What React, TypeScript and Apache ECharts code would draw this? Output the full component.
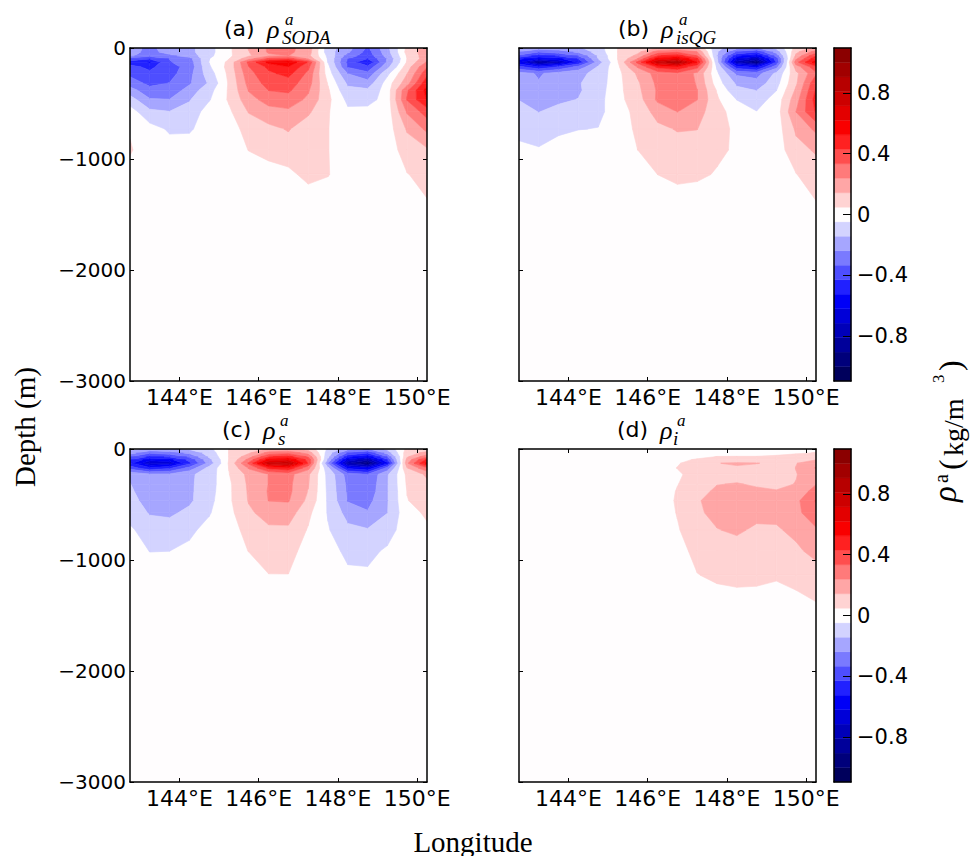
import React, { useEffect, useRef } from "react";
import * as echarts from "echarts";

const longitudes = [142.75, 143.25, 143.75, 144.25, 144.75, 145.25, 145.75, 146.25, 146.75, 147.25, 147.75, 148.25, 148.75, 149.25, 149.75, 150.25];
const depths = [0, 35, 70, 96, 129, 171, 229, 317, 381, 465, 574, 729, 918, 1139, 1378, 1625];
const levels = [-1.095, -0.9998, -0.9046, -0.8093, -0.7141, -0.6189, -0.5237, -0.4285, -0.3333, -0.238, -0.1428, -0.0476, 0.0476, 0.1428, 0.238, 0.3333, 0.4285, 0.5237, 0.6189, 0.7141, 0.8093, 0.9046, 0.9998, 1.095];
const lonTicks = [144, 146, 148, 150];
const depthTicks = [0, -1000, -2000, -3000];
const barTicks = [-0.8, -0.4, 0, 0.4, 0.8];

// density anomaly per longitude column, top to bottom along `depths`
const rhoSoda = [
  [-.19, -.2, -.22, -.38, -.47, -.4, -.36, -.28, -.2, -.1, 0, .04, .056, .02, 0, 0],
  [-.27, -.27, -.3, -.42, -.53, -.45, -.41, -.36, -.3, -.23, -.12, -.01, 0, 0, 0, 0],
  [-.18, -.2, -.26, -.33, -.34, -.37, -.37, -.33, -.3, -.235, -.14, -.06, -.01, 0, 0, 0],
  [-.17, -.17, -.2, -.27, -.29, -.3, -.27, -.25, -.2, -.15, -.11, -.06, 0, 0, 0, 0],
  [-.08, -.08, -.07, -.05, -.045, -.06, -.09, -.13, -.08, -.055, 0, 0, 0, 0, 0, 0],
  [.03, .03, .03, .045, .07, .08, .07, .06, .06, .06, .03, .02, 0, 0, 0, 0],
  [.15, .14, .13, .2, .36, .33, .3, .27, .245, .2, .15, .07, .05, 0, 0, 0],
  [.25, .25, .22, .35, .55, .45, .41, .37, .335, .28, .2, .12, .07, .02, 0, 0],
  [.26, .26, .24, .38, .6, .52, .46, .38, .35, .29, .22, .15, .1, .025, 0, 0],
  [.2, .19, .17, .22, .42, .36, .31, .28, .25, .22, .16, .09, .07, .075, 0, 0],
  [-.1, -.1, -.07, -.06, -.05, -.02, 0, .04, .06, .07, .055, .05, .05, .052, 0, 0],
  [-.2, -.22, -.28, -.33, -.36, -.34, -.24, -.16, -.12, -.07, -.03, 0, 0, 0, 0, 0],
  [-.35, -.37, -.39, -.43, -.52, -.4, -.31, -.2, -.125, -.09, -.01, 0, 0, 0, 0, 0],
  [-.17, -.18, -.2, -.23, -.22, -.17, -.07, 0, 0, 0, 0, 0, 0, 0, 0, 0],
  [.07, .08, .06, .05, .06, .1, .14, .2, .32, .34, .25, .155, .09, .045, 0, 0],
  [.2, .2, .2, .2, .25, .33, .4, .5, .56, .53, .38, .26, .13, .07, .045, 0],
];
const rhoIsQG = [
  [-.17, -.24, -.36, -.5, -.6, -.4, -.2, -.185, -.165, -.145, -.11, -.07, -.03, 0, 0, 0],
  [-.2, -.33, -.47, -.6, -.85, -.5, -.25, -.23, -.21, -.18, -.145, -.09, -.04, 0, 0, 0],
  [-.18, -.29, -.42, -.55, -.75, -.42, -.2, -.2, -.19, -.16, -.115, -.07, 0, 0, 0, 0],
  [-.16, -.22, -.33, -.42, -.5, -.3, -.17, -.15, -.155, -.14, -.1, -.05, 0, 0, 0, 0],
  [-.09, -.1, -.13, -.14, -.19, -.13, -.11, -.1, -.09, -.08, -.07, -.045, 0, 0, 0, 0],
  [.05, .05, .05, .05, .045, .03, .02, .02, .02, .02, 0, 0, 0, 0, 0, 0],
  [.07, .12, .17, .24, .36, .25, .16, .13, .12, .1, .08, .065, .048, 0, 0, 0],
  [.15, .28, .42, .56, .75, .45, .28, .26, .25, .255, .18, .12, .085, .048, 0, 0],
  [.17, .32, .47, .62, .88, .5, .31, .31, .3, .29, .24, .15, .1, .07, .01, 0],
  [.14, .24, .33, .45, .52, .36, .22, .23, .24, .24, .19, .145, .1, .065, 0, 0],
  [-.12, -.13, -.14, -.13, -.11, -.06, -.03, 0, .04, .06, .07, .07, .065, .04, 0, 0],
  [-.2, -.35, -.5, -.62, -.75, -.48, -.26, -.16, -.12, -.05, .02, .035, .035, .01, 0, 0],
  [-.25, -.42, -.6, -.75, -.95, -.55, -.28, -.2, -.145, -.09, -.045, 0, 0, 0, 0, 0],
  [-.12, -.2, -.3, -.38, -.42, -.27, -.12, -.08, -.05, -.01, 0, 0, 0, 0, 0, 0],
  [.08, .12, .17, .22, .3, .19, .12, .13, .16, .2, .24, .16, .11, .045, 0, 0],
  [.17, .28, .42, .5, .58, .4, .32, .41, .44, .47, .44, .26, .155, .095, .047, 0],
];
const rhoS = [
  [-.12, -.2, -.33, -.42, -.5, -.38, -.16, -.14, -.13, -.12, -.09, -.03, 0, 0, 0, 0],
  [-.17, -.32, -.45, -.58, -.7, -.5, -.22, -.2, -.19, -.17, -.15, -.1, -.05, 0, 0, 0],
  [-.16, -.28, -.42, -.55, -.68, -.45, -.22, -.2, -.2, -.18, -.16, -.1, -.048, 0, 0, 0],
  [-.13, -.22, -.32, -.4, -.45, -.3, -.16, -.16, -.16, -.16, -.12, -.065, -.03, 0, 0, 0],
  [-.07, -.1, -.13, -.17, -.2, -.11, -.1, -.09, -.085, -.075, -.055, -.02, 0, 0, 0, 0],
  [.05, .05, .05, .05, .06, .05, .045, .03, .03, .03, .02, 0, 0, 0, 0, 0],
  [.08, .13, .2, .27, .35, .25, .17, .16, .155, .15, .125, .085, .05, 0, 0, 0],
  [.15, .27, .42, .56, .75, .45, .24, .24, .245, .24, .185, .125, .085, .045, 0, 0],
  [.16, .3, .46, .6, .8, .5, .27, .26, .26, .245, .19, .125, .09, .045, 0, 0],
  [.11, .2, .32, .4, .42, .27, .16, .15, .14, .12, .07, .04, 0, 0, 0, 0],
  [-.06, -.09, -.12, -.16, -.25, -.12, -.075, -.07, -.065, -.06, -.055, -.04, -.01, 0, 0, 0],
  [-.2, -.35, -.5, -.65, -.8, -.55, -.28, -.26, -.255, -.245, -.18, -.12, -.07, -.03, 0, 0],
  [-.25, -.42, -.6, -.78, -.95, -.62, -.33, -.31, -.3, -.27, -.23, -.135, -.07, -.035, 0, 0],
  [-.12, -.2, -.33, -.43, -.55, -.3, -.155, -.15, -.15, -.15, -.145, -.085, -.035, 0, 0, 0],
  [.07, .1, .13, .18, .22, .14, .07, .06, .05, .045, .02, 0, 0, 0, 0, 0],
  [.09, .17, .3, .45, .55, .32, .16, .12, .1, .08, .06, .035, 0, 0, 0, 0],
];
const rhoI = [
  [0, 0, 0, 0, 0, 0, 0, 0, 0, 0, 0, 0, 0, 0, 0, 0],
  [0, 0, 0, 0, 0, 0, 0, 0, 0, 0, 0, 0, 0, 0, 0, 0],
  [0, 0, 0, 0, 0, 0, 0, 0, 0, 0, 0, 0, 0, 0, 0, 0],
  [0, 0, 0, 0, 0, 0, 0, 0, 0, 0, 0, 0, 0, 0, 0, 0],
  [0, 0, 0, 0, 0, 0, 0, 0, 0, 0, 0, 0, 0, 0, 0, 0],
  [0, 0, 0, 0, 0, 0, 0, 0, 0, 0, 0, 0, 0, 0, 0, 0],
  [0, 0, 0, 0, 0, 0, 0, 0, 0, 0, 0, 0, 0, 0, 0, 0],
  [0, 0, 0, 0, 0, 0, 0, 0, 0, 0, 0, 0, 0, 0, 0, 0],
  [0, 0, .01, .03, .04, .05, .035, .045, .053, .058, .052, .04, .02, 0, 0, 0],
  [0, .01, .03, .055, .09, .1, .08, .09, .11, .135, .13, .1, .07, .045, 0, 0],
  [0, .02, .05, .07, .14, .14, .11, .14, .16, .175, .165, .14, .09, .06, .02, 0],
  [.01, .03, .05, .08, .155, .13, .12, .147, .17, .18, .17, .155, .11, .07, .02, 0],
  [.01, .03, .05, .07, .147, .11, .1, .135, .155, .17, .165, .13, .1, .07, .015, 0],
  [.01, .035, .055, .08, .12, .1, .11, .13, .146, .17, .16, .135, .1, .055, .02, 0],
  [.015, .04, .07, .1, .14, .145, .14, .145, .17, .215, .21, .16, .13, .07, .03, 0],
  [.02, .05, .09, .14, .2, .245, .19, .235, .28, .34, .31, .225, .165, .11, .047, 0],
];

const panelValues = [rhoSoda, rhoIsQG, rhoS, rhoI];
const SANS = "DejaVu Sans";
const SERIF = "Liberation Serif";
const BG = "#fffdfe";

// matplotlib "seismic" at a band's position among the 23 bands
function seismic(t: number): string {
  const stops = [[0, 0, 0.3], [0, 0, 1], [1, 1, 1], [1, 0, 0], [0.5, 0, 0]];
  const p = Math.min(t, 0.99999) * 4;
  const i = Math.floor(p);
  const f = p - i;
  const c = stops[i].map((a, k) => Math.round((a + (stops[i + 1][k] - a) * f) * 255));
  return `rgb(${c[0]},${c[1]},${c[2]})`;
}
const bandColor = (k: number) => (k === 11 ? BG : seismic((k + 0.5) / 23));

type Vert = { x: number; y: number; v: number };
function clipBelow(poly: Vert[], limit: number, keepAbove: boolean): Vert[] {
  const out: Vert[] = [];
  const inside = (p: Vert) => (keepAbove ? p.v >= limit : p.v <= limit);
  for (let i = 0; i < poly.length; i++) {
    const a = poly[i];
    const b = poly[(i + 1) % poly.length];
    if (inside(a)) out.push(a);
    if (inside(a) !== inside(b)) {
      const f = (limit - a.v) / (b.v - a.v);
      out.push({ x: a.x + (b.x - a.x) * f, y: a.y + (b.y - a.y) * f, v: limit });
    }
  }
  return out;
}

// filled contour pieces of one panel: [band, [lon, -depth], ...]
function contourPieces(values: number[][]) {
  const pieces: { band: number; pts: number[][] }[] = [];
  for (let c = 0; c < longitudes.length - 1; c++) {
    for (let r = 0; r < depths.length - 1; r++) {
      const quad: Vert[] = [
        { x: longitudes[c], y: -depths[r], v: values[c][r] },
        { x: longitudes[c + 1], y: -depths[r], v: values[c + 1][r] },
        { x: longitudes[c + 1], y: -depths[r + 1], v: values[c + 1][r + 1] },
        { x: longitudes[c], y: -depths[r + 1], v: values[c][r + 1] },
      ];
      for (let k = 0; k < levels.length - 1; k++) {
        if (k === 11) continue;
        let poly = clipBelow(quad, levels[k], true);
        if (poly.length < 3) continue;
        poly = clipBelow(poly, levels[k + 1], false);
        if (poly.length < 3) continue;
        pieces.push({ band: k, pts: poly.map((p) => [p.x, p.y]) });
      }
    }
  }
  return pieces;
}

const PLOT_W = 297;
const PLOT_H = 333;
const lefts = [130, 519, 130, 519];
const tops = [48, 48, 449, 449];

const axisLine = { show: true, onZero: false, lineStyle: { color: "#000", width: 1.5 } };
const minus = (s: string) => s.replace("-", "\u2212");

function buildOption() {
  const grid: any[] = [];
  const xAxis: any[] = [];
  const yAxis: any[] = [];
  const series: any[] = [];

  panelValues.forEach((values, i) => {
    grid.push({ show: true, left: lefts[i], top: tops[i], width: PLOT_W, height: PLOT_H, backgroundColor: BG, borderWidth: 0 });
    const xBase = { type: "value", gridIndex: i, min: longitudes[0], max: longitudes[15], z: 5, axisLine, splitLine: { show: false } };
    const yBase = { type: "value", gridIndex: i, min: -3000, max: 0, z: 5, axisLine, splitLine: { show: false } };
    const tickX = { inside: true, length: 4, lineStyle: { color: "#000", width: 1 }, customValues: lonTicks };
    const tickY = { inside: true, length: 4, lineStyle: { color: "#000", width: 1 }, customValues: depthTicks };
    xAxis.push({
      ...xBase, position: "bottom", axisTick: tickX,
      axisLabel: { customValues: lonTicks, formatter: (v: number) => `${v}°E`, fontFamily: SANS, fontSize: 22, color: "#000", margin: 5 },
    });
    xAxis.push({ ...xBase, position: "top", axisTick: tickX, axisLabel: { show: false } });
    yAxis.push({
      ...yBase, position: "left", axisTick: tickY,
      axisLabel: i % 2 === 0
        ? { customValues: depthTicks, formatter: (v: number) => minus(String(v)), fontFamily: SANS, fontSize: 20, color: "#000", margin: 4 }
        : { show: false },
    });
    yAxis.push({ ...yBase, position: "right", axisTick: tickY, axisLabel: { show: false } });

    const pieces = contourPieces(values);
    series.push({
      type: "custom", xAxisIndex: i * 2, yAxisIndex: i * 2, coordinateSystem: "cartesian2d", clip: true, silent: true,
      data: pieces.map((_, n) => [n]),
      renderItem: (_: any, api: any) => {
        const piece = pieces[api.value(0)];
        const fill = bandColor(piece.band);
        return {
          type: "polygon",
          shape: { points: piece.pts.map((p) => api.coord(p)) },
          style: { fill, stroke: fill, lineWidth: 0.6 },
        };
      },
    });
  });

  [0, 1].forEach((b) => {
    const g = grid.length;
    const xi = xAxis.length;
    const yi = yAxis.length;
    grid.push({ show: false, left: 834, top: tops[b * 2], width: 17, height: PLOT_H });
    const xBase = { type: "value", gridIndex: g, min: 0, max: 1, z: 5, axisLine, axisTick: { show: false }, axisLabel: { show: false }, splitLine: { show: false } };
    xAxis.push({ ...xBase, position: "bottom" }, { ...xBase, position: "top" });
    const yBase = { type: "value", gridIndex: g, min: levels[0], max: levels[23], z: 5, axisLine, splitLine: { show: false } };
    yAxis.push({ ...yBase, position: "left", axisTick: { show: false }, axisLabel: { show: false } });
    yAxis.push({
      ...yBase, position: "right",
      axisTick: { inside: true, length: 8, lineStyle: { color: "#000", width: 1 }, customValues: barTicks },
      axisLabel: { customValues: barTicks, formatter: (v: number) => minus(String(v)), fontFamily: SANS, fontSize: 21, color: "#000", margin: 6 },
    });
    const bands = levels.slice(0, -1).map((lo, k) => [lo, levels[k + 1], k]);
    series.push({
      type: "custom", xAxisIndex: xi, yAxisIndex: yi, coordinateSystem: "cartesian2d", silent: true,
      data: bands,
      renderItem: (_: any, api: any) => {
        const a = api.coord([0, api.value(1)]);
        const c = api.coord([1, api.value(0)]);
        const fill = bandColor(api.value(2));
        return { type: "rect", shape: { x: a[0], y: a[1], width: c[0] - a[0], height: c[1] - a[1] }, style: { fill, stroke: fill, lineWidth: 0.4 } };
      },
    });
  });

  const txt = (text: string, x: number, y: number, fontFamily: string, fontSize: number, extra: any = {}, rotation = 0) => ({
    type: "text", x, y, rotation, z: 20, silent: true,
    style: { text, fontFamily, fontSize, fill: "#000", textAlign: "left", textVerticalAlign: "middle", ...extra },
  });
  const it = { fontStyle: "italic" };
  const title = (tag: string, sub: string, tagX: number, rhoX: number, supX: number, subX: number, dy: number) => [
    txt(tag, tagX, 28 + dy, SANS, 22),
    txt("\u03c1", rhoX, 29 + dy, SERIF, 26, it),
    txt("a", supX, 19 + dy, SERIF, 17, it),
    txt(sub, subX, 37 + dy, SERIF, 19, it),
  ];
  const graphic = [
    ...title("(a)", "SODA", 224, 267, 285, 282, 0),
    ...title("(b)", "isQG", 618, 661, 679, 676, 0),
    ...title("(c)", "s", 222, 263, 280, 278, 401),
    ...title("(d)", "i", 617, 660, 677, 673, 401),
    txt("Depth (m)", 25, 427, SERIF, 29, { textAlign: "center" }, Math.PI / 2),
    txt("Longitude", 473, 842, SERIF, 29, { textAlign: "center" }),
    txt("\u03c1", 945, 502, SERIF, 33, it, Math.PI / 2),
    txt("a", 941, 483, SERIF, 20, {}, Math.PI / 2),
    txt("(", 950, 470, SERIF, 32, {}, Math.PI / 2),
    txt("kg/m", 953.6, 456, SERIF, 28, {}, Math.PI / 2),
    txt("3", 938, 383, SERIF, 17, {}, Math.PI / 2),
    txt(")", 950, 371, SERIF, 32, {}, Math.PI / 2),
  ];

  return { animation: false, backgroundColor: "#fff", grid, xAxis, yAxis, series, graphic };
}

export default function App() {
  const ref = useRef<HTMLDivElement>(null);
  useEffect(() => {
    document.body.style.margin = "0";
    const chart = echarts.init(ref.current!, undefined, { renderer: "svg" });
    chart.setOption(buildOption() as any);
    return () => chart.dispose();
  }, []);
  return <div ref={ref} style={{ width: 970, height: 856 }} />;
}
